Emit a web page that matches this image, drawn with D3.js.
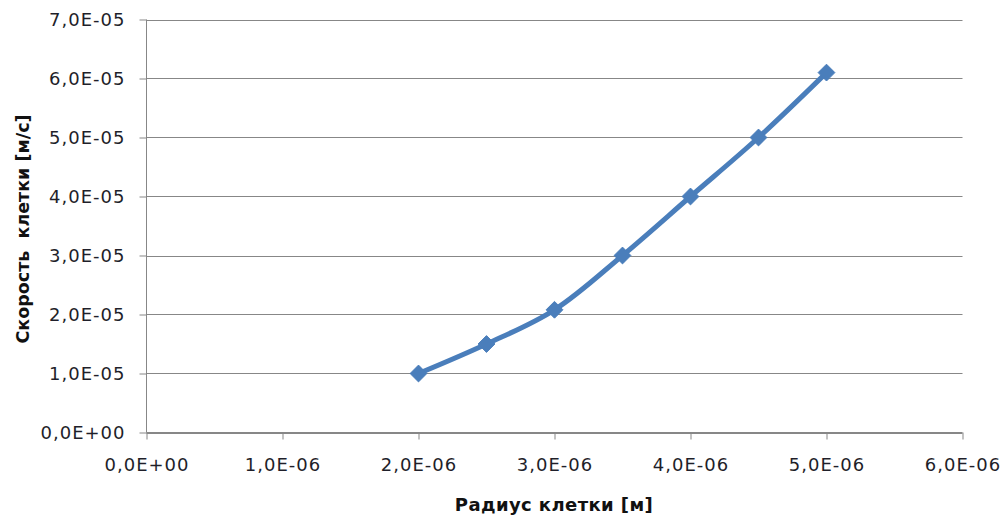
<!DOCTYPE html>
<html>
<head>
<meta charset="utf-8">
<script src="https://cdn.jsdelivr.net/npm/d3@7"></script>
<style>
  html, body { margin: 0; padding: 0; background: #fff; }
  svg { display: block; }
  text { font-family: "DejaVu Sans", Verdana, sans-serif; }
</style>
</head>
<body>
<svg id="chart" width="1008" height="521"></svg>
<script>
// Cell radius [m] and cell velocity [m/s]
const radius = [2.0e-6, 2.5e-6, 3.0e-6, 3.5e-6, 4.0e-6, 4.5e-6, 5.0e-6];
const velocity = [1.0e-5, 1.5e-5, 2.08e-5, 3.0e-5, 4.0e-5, 5.0e-5, 6.1e-5];

const xTicks = [0, 1e-6, 2e-6, 3e-6, 4e-6, 5e-6, 6e-6];
const yTicks = [0, 1e-5, 2e-5, 3e-5, 4e-5, 5e-5, 6e-5, 7e-5];

const xTitle = "Радиус клетки [м]";
const yTitle = "Скорость  клетки [м/с]";

const svg = d3.select("#chart");
const plotLeft = 146.5, plotRight = 962.5, plotTop = 19.5, plotBottom = 432.5;

const x = d3.scaleLinear().domain([0, 6e-6]).range([plotLeft, plotRight]);
const y = d3.scaleLinear().domain([0, 7e-5]).range([plotBottom, plotTop]);

// Excel-style scientific label: "6,0E-05"
function sci(v) {
  if (v === 0) return "0,0E+00";
  const e = Math.floor(Math.log10(Math.abs(v)) + 1e-9);
  const m = v / Math.pow(10, e);
  const sign = e < 0 ? "-" : "+";
  const ee = String(Math.abs(e)).padStart(2, "0");
  return m.toFixed(1).replace(".", ",") + "E" + sign + ee;
}

const gridColor = "#878787";
const labelColor = "#1f1f2a";

// horizontal gridlines
svg.append("g")
  .selectAll("line")
  .data(yTicks)
  .join("line")
  .attr("x1", plotLeft)
  .attr("x2", plotRight)
  .attr("y1", d => Math.round(y(d)) + 0.5)
  .attr("y2", d => Math.round(y(d)) + 0.5)
  .attr("stroke", gridColor)
  .attr("stroke-width", 1);

// y axis
const yAxis = d3.axisLeft(y).tickValues(yTicks).tickFormat(sci).tickSize(7).tickPadding(14);
const gy = svg.append("g").attr("transform", `translate(${plotLeft},0)`).call(yAxis);
gy.select(".domain").attr("stroke", gridColor).attr("d", `M0,${plotTop}V${plotBottom}`);
gy.selectAll(".tick line").attr("stroke", gridColor);
gy.selectAll(".tick text")
  .attr("fill", labelColor)
  .style("font-size", "18px")
  .style("letter-spacing", "1px");

// x axis
const xAxis = d3.axisBottom(x).tickValues(xTicks).tickFormat(sci).tickSize(7).tickPadding(19);
const gx = svg.append("g").attr("transform", `translate(0,${plotBottom})`).call(xAxis);
gx.select(".domain").attr("stroke", gridColor).attr("d", `M${plotLeft},0H${plotRight}`);
gx.selectAll(".tick line").attr("stroke", gridColor);
gx.selectAll(".tick text")
  .attr("fill", labelColor)
  .style("font-size", "18px")
  .style("letter-spacing", "1px");

// axis titles
svg.append("text")
  .attr("x", 554)
  .attr("y", 511)
  .attr("text-anchor", "middle")
  .style("font-size", "18px")
  .style("font-weight", "bold")
  .style("letter-spacing", "0.4px")
  .attr("fill", "#111")
  .text(xTitle);

svg.append("text")
  .attr("transform", `translate(29,${(plotTop + plotBottom) / 2 + 3}) rotate(-90)`)
  .attr("text-anchor", "middle")
  .style("font-size", "17.5px")
  .style("font-weight", "bold")
  .style("white-space", "pre")
  .attr("fill", "#111")
  .text(yTitle);

// series
const pts = radius.map((r, i) => [r, velocity[i]]);
const line = d3.line()
  .x(d => x(d[0]))
  .y(d => y(d[1]))
  .curve(d3.curveCatmullRom.alpha(0.5));

const blue = "#4a7ebb";
svg.append("path")
  .datum(pts)
  .attr("d", line)
  .attr("fill", "none")
  .attr("stroke", blue)
  .attr("stroke-width", 5)
  .attr("stroke-linejoin", "round");

svg.append("g")
  .selectAll("path")
  .data(pts)
  .join("path")
  .attr("transform", d => `translate(${x(d[0])},${y(d[1])})`)
  .attr("d", d3.symbol().type(d3.symbolDiamond2).size(180))
  .attr("fill", blue)
  .attr("stroke", blue)
  .attr("stroke-width", 1);
</script>
</body>
</html>
